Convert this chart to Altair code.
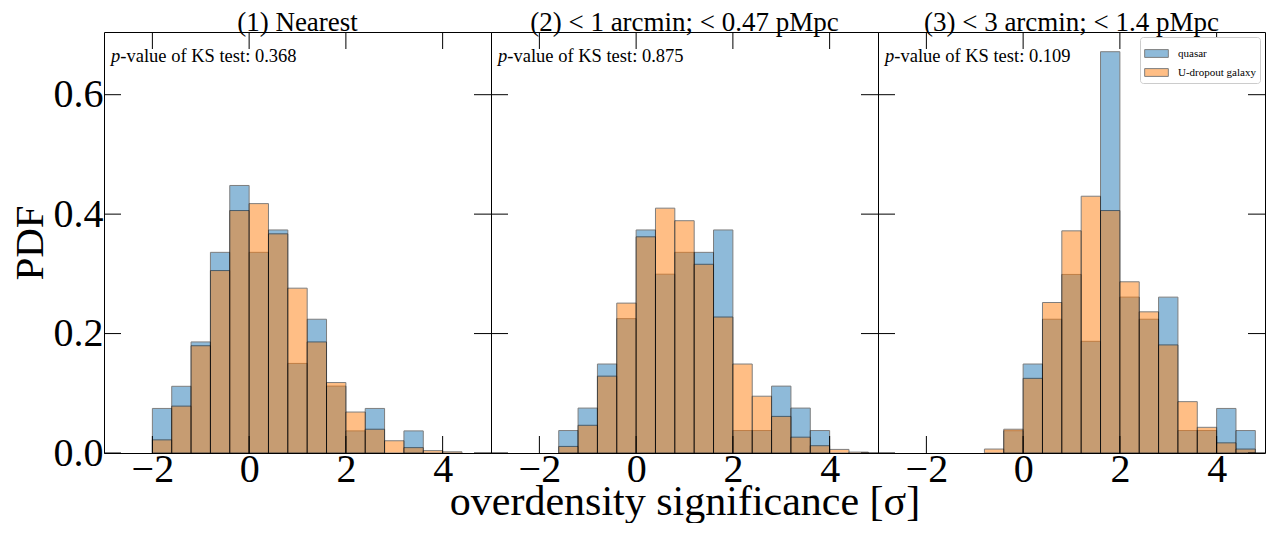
import altair as alt
import pandas as pd

# ---------------- data ----------------
bin_starts = [-2.0, -1.6, -1.2, -0.8, -0.4, 0.0, 0.4, 0.8, 1.2, 1.6,
              2.0, 2.4, 2.8, 3.2, 3.6, 4.0, 4.4]
bin_width = 0.4

series_names = ["quasar", "U-dropout galaxy"]
series_colors = ["#1f77b4", "#ff7f0e"]

p1_quasar = [0.0746, 0.1117, 0.186, 0.336, 0.448, 0.336, 0.3735, 0.15, 0.224,
             0.112, 0.037, 0.0746, 0.0, 0.037, 0.0, 0.0, 0.0]
p1_udrop = [0.022, 0.0785, 0.1796, 0.3055, 0.406, 0.4176, 0.367, 0.276, 0.186,
            0.118, 0.0686, 0.0398, 0.0205, 0.009, 0.004, 0.002, 0.0]

p2_quasar = [0.0, 0.0376, 0.0752, 0.149, 0.225, 0.3735, 0.2994, 0.336, 0.336,
             0.3735, 0.0376, 0.0376, 0.112, 0.0752, 0.0376, 0.0, 0.0]
p2_udrop = [0.0, 0.011, 0.0464, 0.1287, 0.251, 0.362, 0.41, 0.389, 0.316,
            0.2277, 0.149, 0.0951, 0.0613, 0.0265, 0.0122, 0.006, 0.0015]

p3_quasar = [0.0, 0.0, 0.0, 0.0, 0.0373, 0.149, 0.224, 0.299, 0.187,
             0.672, 0.261, 0.224, 0.261, 0.0376, 0.0376, 0.0746, 0.0376]
p3_udrop = [0.0, 0.0, 0.0, 0.0066, 0.0398, 0.125, 0.252, 0.372, 0.43,
            0.406, 0.2867, 0.2364, 0.181, 0.086, 0.043, 0.017, 0.0066]

panel_titles = ["(1) Nearest", "(2) < 1 arcmin; < 0.47 pMpc", "(3) < 3 arcmin; < 1.4 pMpc"]
ks_values = ["0.368", "0.875", "0.109"]

x_tick_values = [-2, 0, 2, 4]
y_tick_values = [0.0, 0.2, 0.4, 0.6]
x_domain = [-3, 5]
y_domain = [0, 0.705]

FONT = "Liberation Serif"
W = 387
H = 421
TICK = 17


def hist_frame(values, name):
    rows = []
    for s, v in zip(bin_starts, values):
        if v > 0:
            rows.append({"x0": s, "x1": round(s + bin_width, 2), "pdf": v,
                         "base": 0.0, "series": name})
    return pd.DataFrame(rows)


def make_panel(idx, quasar, udrop):
    xs = alt.Scale(domain=x_domain, nice=False, zero=False)
    ys = alt.Scale(domain=y_domain, nice=False, zero=False)
    if idx == 2:
        legend = alt.Legend(
            title=None, orient="top-right", offset=5,
            labelFont=FONT, labelFontSize=11, labelColor="black",
            symbolType="M-1,-0.33H1V0.33H-1Z", symbolSize=560,
            symbolStrokeColor="black", symbolStrokeWidth=1, symbolOpacity=0.5,
            fillColor="white", strokeColor="#cccccc", cornerRadius=3,
            padding=4, labelOffset=9, rowPadding=-12,
        )
    else:
        legend = None
    color = alt.Color("series:N", scale=alt.Scale(domain=series_names, range=series_colors),
                      legend=legend)

    if idx == 0:
        y_axis = alt.Axis(values=y_tick_values, format=".1f", labelFont=FONT, labelFontSize=40,
                          labelColor="black", ticks=False, domain=False, grid=False,
                          labelPadding=1, title="PDF", titleFont=FONT, titleFontSize=41,
                          titleFontWeight="normal", titleColor="black", titlePadding=2)
    else:
        y_axis = None
    x_axis = alt.Axis(values=x_tick_values, format="d", labelFont=FONT, labelFontSize=40,
                      labelColor="black", ticks=False, domain=False, grid=False,
                      labelPadding=-4, labelFlush=False,
                      title=("overdensity significance [σ]" if idx == 1 else None),
                      titleFont=FONT, titleFontSize=42, titleFontWeight="normal",
                      titleColor="black", titlePadding=-8)

    def bars(frame):
        return alt.Chart(frame).mark_rect(opacity=0.5, stroke="black", strokeWidth=1).encode(
            x=alt.X("x0:Q", scale=xs, axis=x_axis),
            x2="x1:Q",
            y=alt.Y("pdf:Q", scale=ys, axis=y_axis),
            y2="base:Q",
            color=color,
        )

    layers = [bars(hist_frame(quasar, series_names[0])),
              bars(hist_frame(udrop, series_names[1]))]

    xt = pd.DataFrame({"t": x_tick_values})
    yt = pd.DataFrame({"t": y_tick_values})
    rule = dict(color="black", strokeWidth=1)
    layers.append(alt.Chart(xt).mark_rule(**rule).encode(
        x=alt.X("t:Q", scale=xs, axis=x_axis), y=alt.value(0), y2=alt.value(TICK)))
    layers.append(alt.Chart(xt).mark_rule(**rule).encode(
        x=alt.X("t:Q", scale=xs, axis=x_axis), y=alt.value(H - TICK), y2=alt.value(H)))
    layers.append(alt.Chart(yt).mark_rule(**rule).encode(
        y=alt.Y("t:Q", scale=ys, axis=y_axis), x=alt.value(0), x2=alt.value(TICK)))
    layers.append(alt.Chart(yt).mark_rule(**rule).encode(
        y=alt.Y("t:Q", scale=ys, axis=y_axis), x=alt.value(W - TICK), x2=alt.value(W)))

    layers.append(alt.Chart(pd.DataFrame({"t": ["p"]})).mark_text(
        font=FONT, fontSize=18.5, fontStyle="italic", align="left", baseline="alphabetic",
        color="black").encode(text="t:N", x=alt.value(7), y=alt.value(30)))
    layers.append(alt.Chart(pd.DataFrame({"t": ["-value of KS test: " + ks_values[idx]]})).mark_text(
        font=FONT, fontSize=18.5, align="left", baseline="alphabetic",
        color="black").encode(text="t:N", x=alt.value(16.3), y=alt.value(30)))

    return alt.layer(*layers).properties(
        width=W, height=H,
        title=alt.TitleParams(panel_titles[idx], font=FONT, fontSize=27, fontWeight="normal",
                              color="black", anchor="middle", offset=-5),
    )


panels = [make_panel(0, p1_quasar, p1_udrop),
          make_panel(1, p2_quasar, p2_udrop),
          make_panel(2, p3_quasar, p3_udrop)]

chart = alt.hconcat(*panels, spacing=0, bounds="flush").resolve_legend(
    color="independent").resolve_scale(color="independent").properties(
    padding={"left": 0, "top": 0, "right": 0, "bottom": 0},
    background="white",
).configure_view(stroke="black", strokeWidth=1)

chart.save("out.html", embed_options={"renderer": "svg", "actions": False})
